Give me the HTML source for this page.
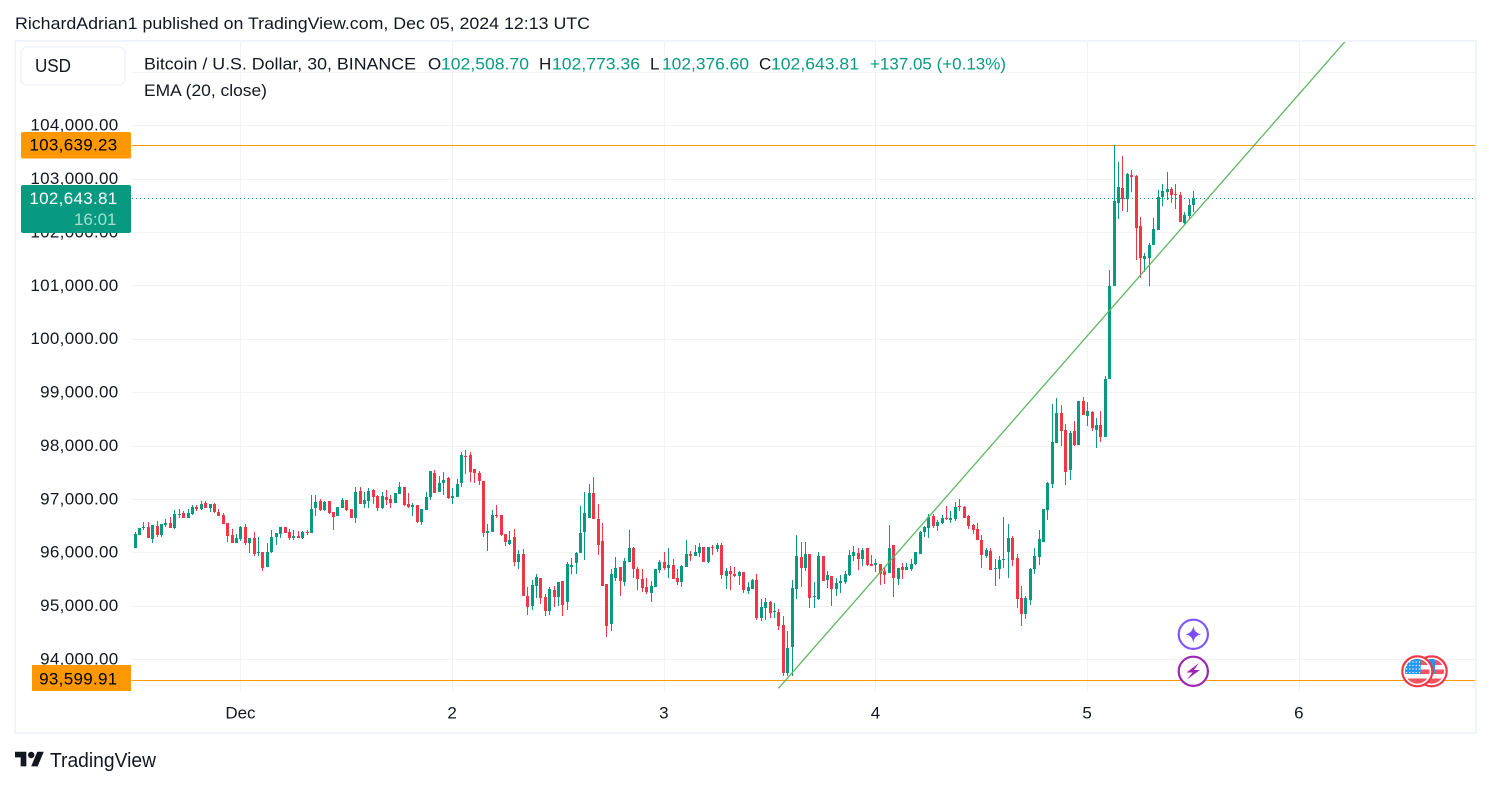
<!DOCTYPE html>
<html lang="en">
<head>
<meta charset="utf-8">
<title>Bitcoin / U.S. Dollar chart</title>
<style>
html,body{margin:0;padding:0;background:#fff;width:1491px;height:786px;overflow:hidden}
svg{display:block;font-family:"Liberation Sans",Arial,sans-serif}
text{fill:#131722;font-size:17px}
</style>
</head>
<body>
<svg id="chart" xmlns="http://www.w3.org/2000/svg" width="1491" height="786" viewBox="0 0 1491 786">
  <defs>
    <clipPath id="plot-clip"><rect x="132" y="42" width="1343" height="649"/></clipPath>
    <clipPath id="flag-clip-a"><circle cx="1417.3" cy="671.3" r="12.3"/></clipPath>
    <clipPath id="flag-clip-b"><circle cx="1431.7" cy="671.3" r="12.3"/></clipPath>
  </defs>
  <rect x="0" y="0" width="1491" height="786" fill="#ffffff"/>
  <text x="15" y="29" textLength="575" lengthAdjust="spacingAndGlyphs">RichardAdrian1 published on TradingView.com, Dec 05, 2024 12:13 UTC</text>
  <rect x="15" y="41" width="1461" height="692" fill="#ffffff" stroke="#f0f3fa" stroke-width="2"/>
  <g id="grid"></g>
  <g id="levels"></g>
  <g id="candles" shape-rendering="crispEdges"></g>
  <g id="drawings" clip-path="url(#plot-clip)"></g>

  <g>
    <circle cx="1193.3" cy="634.3" r="14.6" fill="#ffffff" stroke="#7e57ff" stroke-width="2.2"/>
    <path d="M1193.3 626 Q1194.3 633.3 1201.3 634.3 Q1194.3 635.3 1193.3 642.6 Q1192.3 635.3 1185.3 634.3 Q1192.3 633.3 1193.3 626Z" fill="#7c4dff"/>
  </g>
  <g>
    <circle cx="1193.3" cy="671.3" r="14.6" fill="#ffffff" stroke="#9c27b0" stroke-width="2.2"/>
    <polygon points="1199,663 1186.5,672.5 1192.5,672.5 1187,679.5 1200,670 1194,670" fill="#9c27b0"/>
  </g>
  <g>
    <circle cx="1431.7" cy="671.3" r="15" fill="#ffffff" stroke="#f23645" stroke-width="2.2"/>
    <g clip-path="url(#flag-clip-b)">
      <rect x="1419" y="659" width="26" height="6" fill="#f7525f"/>
      <rect x="1419" y="669.5" width="26" height="4.5" fill="#f7525f"/>
      <rect x="1419" y="678.5" width="26" height="6" fill="#f7525f"/>
      <rect x="1420" y="659" width="15" height="15" fill="#2196f3"/>
    </g>
  </g>
  <g>
    <circle cx="1417.3" cy="671.3" r="15" fill="#ffffff" stroke="#f23645" stroke-width="2.2"/>
    <g clip-path="url(#flag-clip-a)">
      <rect x="1405" y="659" width="26" height="6" fill="#f7525f"/>
      <rect x="1405" y="669.5" width="26" height="4.5" fill="#f7525f"/>
      <rect x="1405" y="678.5" width="26" height="6" fill="#f7525f"/>
      <rect x="1405" y="659" width="15.7" height="15" fill="#2196f3"/>
      <path d="M1406 662H1420M1406 665.5H1420M1406 669H1420M1406 672.5H1420" stroke="#ffffff" stroke-width="1.2" stroke-dasharray="1.2 2"/>
    </g>
  </g>

  <g id="price-axis"></g>
  <g id="time-axis"></g>
  <g id="axis-labels"></g>

  <g>
    <rect x="21" y="47" width="104" height="38" rx="6" fill="#ffffff" stroke="#f0f3fa" stroke-width="1.5"/>
    <text x="35" y="72" style="font-size:18px" textLength="36" lengthAdjust="spacingAndGlyphs">USD</text>
  </g>

  <g>
    <text x="144" y="69.5" textLength="272" lengthAdjust="spacingAndGlyphs">Bitcoin / U.S. Dollar, 30, BINANCE</text>
    <text x="428" y="69.5">O</text>
    <text x="441" y="69.5" style="fill:#089981" textLength="88" lengthAdjust="spacingAndGlyphs">102,508.70</text>
    <text x="539" y="69.5">H</text>
    <text x="552" y="69.5" style="fill:#089981" textLength="88" lengthAdjust="spacingAndGlyphs">102,773.36</text>
    <text x="650" y="69.5">L</text>
    <text x="662" y="69.5" style="fill:#089981" textLength="87" lengthAdjust="spacingAndGlyphs">102,376.60</text>
    <text x="759" y="69.5">C</text>
    <text x="771" y="69.5" style="fill:#089981" textLength="88" lengthAdjust="spacingAndGlyphs">102,643.81</text>
    <text x="870" y="69.5" style="fill:#089981" textLength="136" lengthAdjust="spacingAndGlyphs">+137.05 (+0.13%)</text>
    <text x="144" y="96" textLength="123" lengthAdjust="spacingAndGlyphs">EMA (20, close)</text>
  </g>

  <g>
    <g transform="translate(15,748.5) scale(.81)" fill="#131722">
      <path d="M14 22H7V11H0V4h14v18zM28 22h-8l7.5-18h8L28 22z"/>
      <circle cx="20" cy="8" r="4"/>
    </g>
    <text x="50" y="767" style="font-size:20px" textLength="106" lengthAdjust="spacingAndGlyphs">TradingView</text>
  </g>
</svg>
<script>
const opens = [
96087,96331,96462,96481,96256,96500,96331,96519,96556,96462,
96706,96744,96650,96725,96856,96819,96931,96837,96912,96762,
96706,96556,96331,96181,96256,96481,96181,96275,95994,96012,
95731,96012,96294,96350,96481,96387,96275,96312,96275,96387,
96369,96837,96969,96800,96969,96762,96687,96837,96987,96819,
96650,97156,96912,96969,97175,97062,96837,97044,97006,96931,
97100,97231,96912,96856,96894,96575,96800,97044,97494,97137,
97306,97400,97025,97044,97306,97812,97831,97569,97494,97344,
96369,96387,96706,96706,96350,96162,96294,95825,95975,95187,
95000,95375,95525,95169,94906,95300,95169,95469,95075,95731,
95806,95994,96387,96650,97119,96631,96219,95412,94662,95525,
95731,95450,95825,96087,95694,95506,95356,95244,95356,95675,
95825,95712,95769,95525,95450,95731,95975,95937,95994,96106,
95825,96106,96069,96144,95562,95656,95600,95562,95637,95281,
95319,95487,94775,94962,95075,94887,94887,94644,93744,94231,
95319,95919,95712,95975,95169,95131,95937,95487,95562,95319,
95431,95450,95581,95937,95994,95881,96087,95787,95769,95787,
95656,95619,96144,95506,95731,95675,95694,95787,95975,96387,
96462,96687,96500,96556,96650,96612,96631,96875,96856,96687,
96519,96444,96237,95937,96031,95694,95694,95862,96012,96275,
95900,95150,94850,95112,95694,95919,96200,96800,97287,98056,
98619,98300,97550,98281,98019,98844,98562,98637,98300,98394,
98169,99240,100994,102550,102831,102625,103075,103056,102119,101500,
101519,101762,102044,102662,102756,102812,102719,102700,102175,102306,
102508.70];
const highs = [
96387,96462,96575,96575,96519,96594,96537,96631,96669,96800,
96819,96781,96819,96894,96894,96969,96969,96912,96931,96819,
96744,96556,96444,96350,96500,96537,96275,96387,96294,96012,
96181,96425,96369,96481,96481,96444,96425,96406,96406,96425,
97081,97081,97006,96969,96969,96762,96856,97025,96987,96819,
97231,97231,97137,97212,97194,97081,97137,97175,97081,97119,
97325,97231,97119,96931,96894,96819,97137,97531,97550,97437,
97512,97419,97212,97381,97887,97925,97887,97569,97531,97344,
96537,96800,96894,96706,96350,96406,96444,96050,96069,95356,
95487,95600,95525,95225,95356,95375,95450,95469,95825,95900,
96012,96875,97137,97287,97419,96912,96556,95412,95694,95919,
95731,95900,96425,96106,95731,95694,95525,95469,95694,95862,
96012,96087,95881,95694,95769,96237,96031,96144,96181,96106,
96106,96144,96181,96181,95712,95750,95731,95656,95637,95450,
95506,95600,95131,95150,95094,95056,94944,94812,94531,95487,
96331,96200,96200,95975,95450,96012,95937,95656,95562,95525,
95581,95656,96050,96125,96087,96087,96087,95956,95881,95787,
95731,96519,96144,95712,95806,95806,95881,96012,96406,96500,
96725,96725,96612,96706,96875,96781,96950,97006,96875,96706,
96537,96556,96331,96087,96087,95881,95937,96669,96537,96312,
95975,95375,95187,95712,96087,96425,96819,97325,98787,98900,
98769,98412,98281,98469,98844,98919,98825,98656,98525,98656,
99300,101294,103639.23,103319,103431,103112,103169,103075,102287,101612,
101800,102269,102794,102906,103131,102850,102906,102756,102381,102625,
102773.36];
const lows = [
96087,96331,96425,96275,96181,96294,96294,96481,96462,96444,
96650,96650,96650,96706,96781,96800,96837,96762,96744,96687,
96537,96200,96181,96181,96219,96144,95994,95937,95937,95656,
95731,95994,96137,96275,96369,96237,96237,96275,96256,96331,
96369,96687,96781,96781,96725,96425,96687,96837,96781,96650,
96556,96912,96837,96837,96912,96781,96819,96894,96837,96931,
97100,96875,96837,96687,96556,96519,96800,96987,97119,97137,
97081,97006,96912,97044,97231,97475,97325,97306,97269,96294,
96031,96387,96650,96312,96125,96144,95750,95694,95187,94831,
94925,95150,95037,94812,94831,94981,95000,94812,94925,95600,
95600,95994,95862,96650,96631,95956,95375,94419,94531,95469,
95187,95375,95825,95525,95300,95262,95225,95075,95356,95619,
95675,95525,95506,95394,95356,95731,95844,95937,95919,95825,
95806,95956,96012,95506,95319,95300,95544,95394,95244,95225,
95319,94737,94719,94737,94775,94775,94550,93687,93687,93687,
95131,95356,95656,94962,94962,95112,95469,95337,95000,95187,
95244,95412,95562,95844,95675,95750,95750,95750,95637,95394,
95412,95619,95169,95394,95506,95675,95656,95769,95975,96294,
96275,96462,96406,96537,96612,96556,96594,96781,96650,96444,
96350,96237,95712,95900,95675,95375,95506,95712,95525,95750,
94962,94625,94756,95019,95600,95769,96200,96612,97212,98056,
98000,97269,97362,98000,98019,98581,98375,98281,97962,98075,
98169,99240,100994,102250,102400,102381,102756,101481,101144,101256,
100994,101762,102044,102494,102606,102550,102437,102194,102137,102250,
102376.60];
const closes = [
96350,96462,96481,96275,96519,96331,96537,96556,96462,96725,
96725,96650,96744,96856,96819,96912,96837,96912,96762,96687,
96537,96312,96181,96275,96481,96181,96275,95975,96012,95712,
96012,96294,96369,96481,96369,96275,96312,96275,96387,96369,
96819,96950,96800,96950,96744,96669,96856,96987,96800,96650,
97137,96912,96987,97156,97044,96837,97062,96987,96931,97119,
97231,96894,96856,96894,96575,96819,97044,97531,97119,97306,
97362,97025,97062,97287,97831,97794,97512,97494,97344,96369,
96406,96706,96687,96331,96200,96237,95825,95975,95187,94981,
95394,95544,95150,94906,95319,95169,95450,95019,95787,95769,
95994,96369,96744,97119,96631,96144,95375,94625,95600,95712,
95469,95844,96087,95694,95506,95337,95262,95375,95694,95825,
95712,95769,95506,95450,95750,95975,95937,96012,96106,95825,
96106,96087,96144,95581,95656,95600,95562,95637,95300,95356,
95487,94775,94981,95075,94869,94906,94625,93744,94212,95337,
95937,95712,95975,95150,95187,95937,95469,95581,95319,95431,
95469,95600,95956,96012,95881,96050,95769,95750,95806,95600,
95581,96087,95525,95712,95675,95731,95787,96012,96387,96481,
96669,96500,96575,96650,96631,96650,96856,96856,96650,96500,
96425,96237,95956,96050,95675,95712,95862,95881,96275,95862,
95131,94850,95150,95694,95937,96256,96819,97306,98075,98619,
98281,97512,98244,98019,98844,98581,98656,98337,98394,98169,
99240,100994,102587,102850,102625,103094,103037,102081,101519,101556,
101762,102062,102662,102775,102812,102700,102700,102194,102325,102512,
102643.81];

const priceTicks = [94000,95000,96000,97000,98000,99000,100000,101000,102000,103000,104000];
const priceTickLabels = ['94,000.00','95,000.00','96,000.00','97,000.00','98,000.00','99,000.00','100,000.00','101,000.00','102,000.00','103,000.00','104,000.00'];
const gridPrices = [94000,95000,96000,97000,98000,99000,100000,101000,102000,103000,104000,105000];
const dayTickIndex = [24,72,120,168,216,264];
const dayTickLabels = ['Dec','2','3','4','5','6'];
const highestPrice = 103639.23;
const lowestPrice = 93599.91;
const lastPrice = 102643.81;
const trendIndex = [145.9,274.5];
const trendPrice = [93452,105581];

const NS = 'http://www.w3.org/2000/svg';
const xScale = i => 135.1 + 4.41 * i;
const yScale = p => 125.3 + (104000 - p) * 0.05338;
const snap = v => Math.floor(v + 0.5);
const GREEN = '#089981', RED = '#f23645', ORANGE = '#ff9800';

function mk(parent, tag, attrs, text) {
  const el = document.createElementNS(NS, tag);
  for (const k in attrs) el.setAttribute(k, attrs[k]);
  if (text !== undefined) el.textContent = text;
  parent.appendChild(el);
  return el;
}
const gridG = document.getElementById('grid');
const levelsG = document.getElementById('levels');
const candlesG = document.getElementById('candles');
const drawG = document.getElementById('drawings');
const pAxis = document.getElementById('price-axis');
const tAxis = document.getElementById('time-axis');
const badges = document.getElementById('axis-labels');

gridPrices.forEach(p => {
  const y = snap(yScale(p)) + 0.5;
  const el = mk(gridG, 'line', {x1:132, x2:1475, y1:y, y2:y, stroke:'#f3f3f3', 'stroke-width':1});
  
  
});
dayTickIndex.forEach(i => {
  const x = Math.floor(xScale(i)) + 0.5;
  const el = mk(gridG, 'line', {x1:x, x2:x, y1:42, y2:691, stroke:'#f3f3f3', 'stroke-width':1});
  
  
});

[highestPrice, lowestPrice].forEach(p => {
  const y = snap(yScale(p)) + 0.5;
  const el = mk(levelsG, 'line', {x1:132, x2:1475, y1:y, y2:y, stroke:ORANGE, 'stroke-width':1});
  
  
});
const lastY = snap(yScale(lastPrice)) + 0.5;
const lastLine = mk(levelsG, 'line', {x1:132, x2:1475, y1:lastY, y2:lastY, stroke:GREEN, 'stroke-width':1, 'stroke-dasharray':'1 3'});



opens.forEach((o, i) => {
  const c = closes[i], h = highs[i], l = lows[i];
  const color = c >= o ? GREEN : RED;
  const px = Math.floor(xScale(i));
  const g = mk(candlesG, 'g', {});
  
  
  const yH = snap(yScale(h)), yL = snap(yScale(l));
  const yT = snap(yScale(Math.max(o, c))), yB = snap(yScale(Math.min(o, c)));
  const wick = mk(g, 'rect', {x:px, y:yH, width:1, height:Math.max(1, yL - yH), fill:color});
  
  
  const body = mk(g, 'rect', {x:px - 1, y:yT, width:3, height:Math.max(1, yB - yT), fill:color});
  
  
});

const trend = mk(drawG, 'line', {
  x1:xScale(trendIndex[0]), y1:yScale(trendPrice[0]),
  x2:xScale(trendIndex[1]), y2:yScale(trendPrice[1]),
  stroke:'#5cb860', 'stroke-width':1.3
});



priceTicks.forEach((p, i) => {
  const t = mk(pAxis, 'text', {x:118.5, y:yScale(p) + 5.4, 'text-anchor':'end', style:'letter-spacing:.3px'}, priceTickLabels[i]);
  
  
});
dayTickIndex.forEach((d, i) => {
  const t = mk(tAxis, 'text', {x:xScale(d) - 0.5, y:718.3, 'text-anchor':'middle'}, dayTickLabels[i]);
  
  
});

function fmt(p) {
  return p.toLocaleString('en-US', {minimumFractionDigits:2, maximumFractionDigits:2});
}
function badgeText(p, yOff, fill) {
  return mk(badges, 'text', {x:117.5, y:snap(yScale(p)) + yOff, 'text-anchor':'end', style:'letter-spacing:.3px;fill:' + fill}, fmt(p));
}
const hiRect = mk(badges, 'rect', {x:21, y:snap(yScale(highestPrice)) - 13, width:110, height:26.5, rx:2, fill:ORANGE});


const hiText = badgeText(highestPrice, 5.7, '#000000');



const loRect = mk(badges, 'rect', {x:32, y:snap(yScale(lowestPrice)) - 15, width:99, height:26, fill:ORANGE});


const loText = badgeText(lowestPrice, 4.7, '#000000');



const lastRect = mk(badges, 'rect', {x:21, y:snap(yScale(lastPrice)) - 13, width:110, height:48, rx:2, fill:GREEN});


const lastText = badgeText(lastPrice, 6, '#ffffff');


const cd = mk(badges, 'text', {x:116.5, y:snap(yScale(lastPrice)) + 27, 'text-anchor':'end', style:'fill:#ffffff;fill-opacity:.65'}, '16:01');


</script>
</body>
</html>
